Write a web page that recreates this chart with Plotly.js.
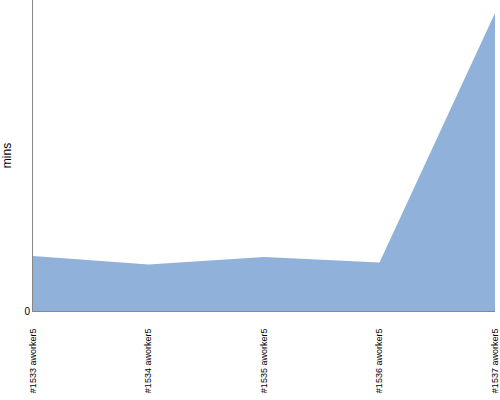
<!DOCTYPE html>
<html><head><meta charset="utf-8">
<script src="https://cdn.plot.ly/plotly-3.0.1.min.js"></script>
<style>body{margin:0;background:#fff}#chart{width:500px;height:400px}</style>
</head><body><div id="chart"></div>
<script>
const categories = ["#1533 aworker5","#1534 aworker5","#1535 aworker5","#1536 aworker5","#1537 aworker5"];
const minsValues = [5.5, 4.65, 5.4, 4.85, 29.8];
const yTicks = [0];

const trace = {
  x: categories, y: minsValues, type: 'scatter', mode: 'lines',
  fill: 'tozeroy', fillcolor: '#8fb1da',
  line: {width: 0, color: '#8fb1da'}, hoverinfo: 'none'
};
const layout = {
  width: 500, height: 400,
  margin: {l: 33, r: 5, t: 0, b: 89, pad: 0},
  paper_bgcolor: '#fff', plot_bgcolor: '#fff',
  showlegend: false,
  font: {family: 'Liberation Sans, sans-serif', size: 10, color: '#000'},
  xaxis: {
    type: 'category', range: [0, 4], showgrid: false, zeroline: false,
    showline: true, linecolor: '#888', linewidth: 1,
    tickangle: -90, ticks: 'outside', ticklen: 13, tickcolor: 'rgba(0,0,0,0)',
    tickfont: {size: 9, family: 'Liberation Sans, sans-serif', color: '#000'}
  },
  yaxis: {
    range: [0, 31.1], showgrid: false, zeroline: false,
    showline: true, linecolor: '#888', linewidth: 1,
    tickvals: yTicks, ticktext: yTicks.map(String), ticks: '',
    tickfont: {size: 10, color: '#000'},
    title: {text: 'mins', font: {size: 12, family: 'Liberation Sans, sans-serif', color: '#000'}, standoff: 11}
  }
};
Plotly.newPlot('chart', [trace], layout, {staticPlot: true, displayModeBar: false});
</script></body></html>
